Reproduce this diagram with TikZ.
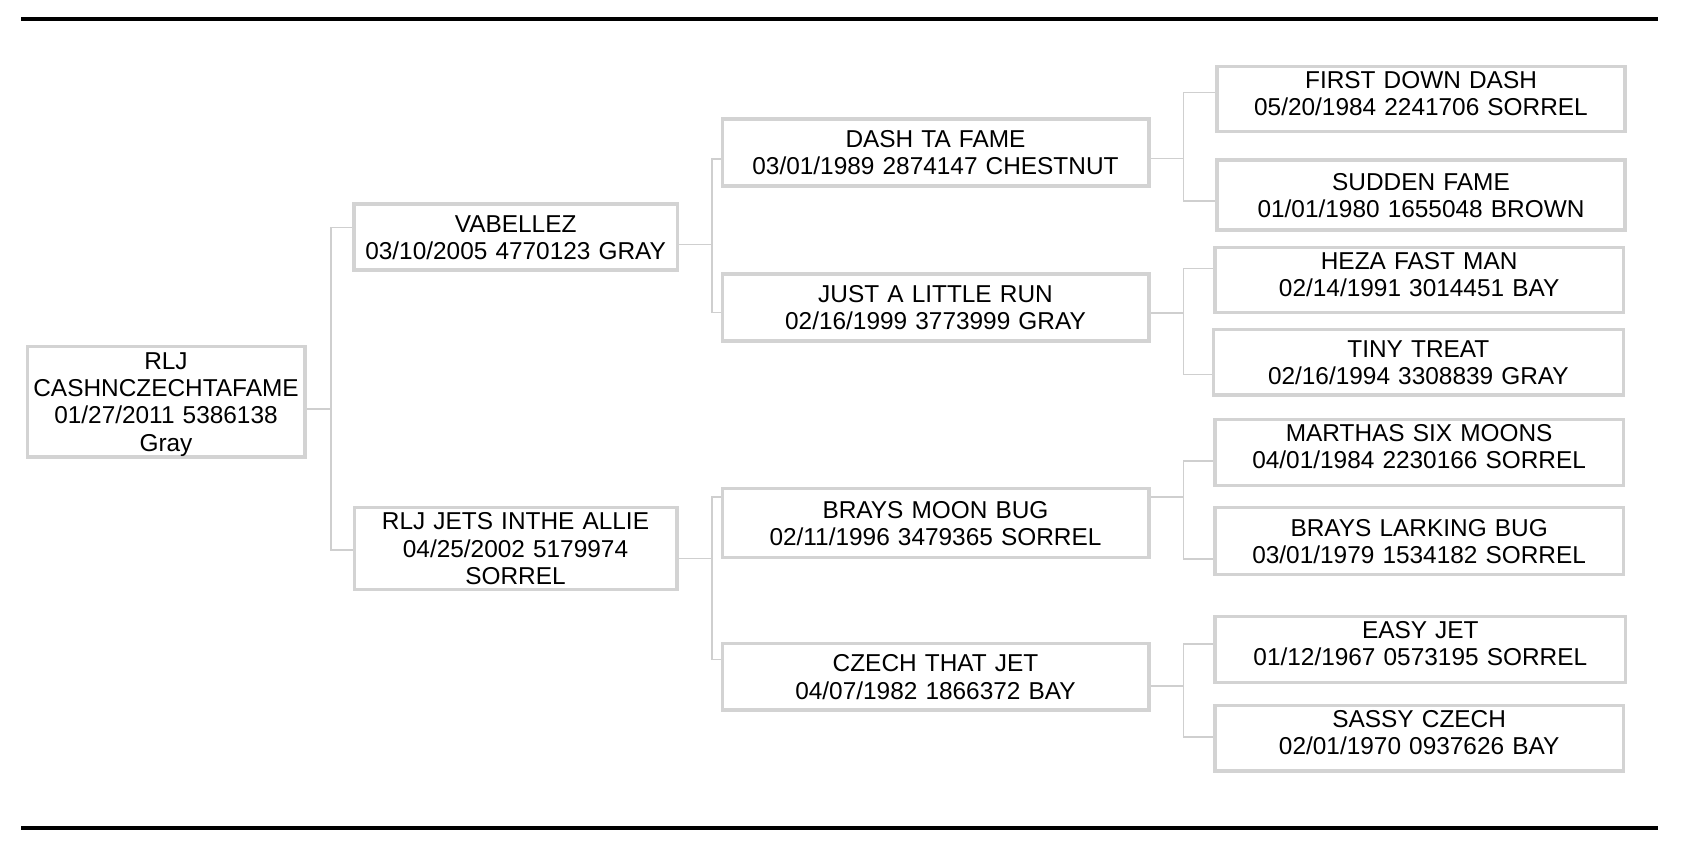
\documentclass[tikz,border=0pt]{standalone}
\usepackage{fontspec}
\setmainfont{Liberation Sans}
\usetikzlibrary{calc,backgrounds}
\definecolor{boxgray}{HTML}{D3D3D3}
\definecolor{linegray}{HTML}{CFCFCF}
\newcommand\horsefont{\fontsize{24.4pt}{27.4pt}\selectfont}
\tikzset{
  horse/.style={draw=boxgray, line width=3.4pt, fill=white, inner sep=0pt,
    align=center, font=\horsefont, text height=17.5pt},
  two/.style={text depth=27.4pt},
  twoup/.style={text depth=39.4pt},
  three/.style={text depth=54.8pt},
  four/.style={text depth=82.2pt},
  conn/.style={draw=linegray, line width=1.6pt},
  rule/.style={draw=black, line width=3.6pt}
}
\begin{document}
\begin{tikzpicture}[x=1pt,y=-1pt]
\useasboundingbox (0,0) rectangle (1696,854);

% rules
\draw[rule] (21,19) -- (1658,19);
\draw[rule] (21,828) -- (1658,828);

% junction coordinates
\coordinate (j0a) at (330.7,227.3);  \coordinate (j0b) at (330.7,550);
\coordinate (j1a) at (711.7,159);    \coordinate (j1b) at (711.7,312.3);
\coordinate (j2a) at (711.7,496.7);  \coordinate (j2b) at (711.7,659.3);
\coordinate (j3a) at (1183.3,92.3);  \coordinate (j3b) at (1183.3,200.7);
\coordinate (j4a) at (1183.3,268.3); \coordinate (j4b) at (1183.3,374.3);
\coordinate (j5a) at (1183.3,461);   \coordinate (j5b) at (1183.3,559);
\coordinate (j6a) at (1183.3,644);   \coordinate (j6b) at (1183.3,736.7);

% generation 0
\node[horse, four, minimum width=277.6pt, minimum height=110.6pt, text width=275pt] (root) at (166,401.5)
  {RLJ\\CASHNCZECHTAFAME\\01/27/2011 5386138\\Gray};

% generation 1
\node[horse, two, minimum width=323.3pt, minimum height=66pt, text width=320pt] (vab) at (515.65,237)
  {VABELLEZ\\03/10/2005 4770123 GRAY};
\node[horse, three, minimum width=322.6pt, minimum height=81.9pt, text width=320pt] (rlj) at (515.5,548.35)
  {RLJ JETS INTHE ALLIE\\04/25/2002 5179974\\SORREL};

% generation 2
\node[horse, two, minimum width=426.6pt, minimum height=67pt, text width=424pt] (dash) at (935.5,152.5)
  {DASH TA FAME\\03/01/1989 2874147 CHESTNUT};
\node[horse, two, minimum width=426.6pt, minimum height=67pt, text width=424pt] (just) at (935.5,307.5)
  {JUST A LITTLE RUN\\02/16/1999 3773999 GRAY};
\node[horse, two, minimum width=426.6pt, minimum height=69.2pt, text width=424pt] (brays) at (935.5,523)
  {BRAYS MOON BUG\\02/11/1996 3479365 SORREL};
\node[horse, two, minimum width=426.6pt, minimum height=66.3pt, text width=424pt] (czech) at (935.5,676.85)
  {CZECH THAT JET\\04/07/1982 1866372 BAY};

% generation 3
\node[horse, twoup, minimum width=408pt, minimum height=64.9pt, text width=405pt] (first) at (1421,99.15)
  {FIRST DOWN DASH\\05/20/1984 2241706 SORREL};
\node[horse, two, minimum width=408pt, minimum height=70pt, text width=405pt] (sudden) at (1421,195)
  {SUDDEN FAME\\01/01/1980 1655048 BROWN};
\node[horse, twoup, minimum width=408.3pt, minimum height=64.6pt, text width=405pt] (heza) at (1419.15,280)
  {HEZA FAST MAN\\02/14/1991 3014451 BAY};
\node[horse, two, minimum width=409.9pt, minimum height=65.6pt, text width=405pt] (tiny) at (1418.35,362.2)
  {TINY TREAT\\02/16/1994 3308839 GRAY};
\node[horse, twoup, minimum width=408.3pt, minimum height=66.2pt, text width=405pt] (marthas) at (1419.15,452.5)
  {MARTHAS SIX MOONS\\04/01/1984 2230166 SORREL};
\node[horse, two, minimum width=408.3pt, minimum height=66.6pt, text width=405pt] (larking) at (1419.15,541)
  {BRAYS LARKING BUG\\03/01/1979 1534182 SORREL};
\node[horse, twoup, minimum width=410.6pt, minimum height=65.6pt, text width=405pt] (easy) at (1420.3,649.5)
  {EASY JET\\01/12/1967 0573195 SORREL};
\node[horse, twoup, minimum width=408.3pt, minimum height=65.3pt, text width=405pt] (sassy) at (1419.15,738.35)
  {SASSY CZECH\\02/01/1970 0937626 BAY};

% connectors (behind the boxes)
\begin{pgfonlayer}{background}
\fill[white] (0,0) rectangle (1696,854);
\draw[conn] ($(root.east)+(0,7.5)$) -| (j0a);
\draw[conn] (vab.west |- j0a) -- (j0a) -- (j0b) -- (rlj.west |- j0b);
\draw[conn] ($(vab.east)+(0,7.5)$) -| (j1a);
\draw[conn] (dash.west |- j1a) -- (j1a) -- (j1b) -- (just.west |- j1b);
\draw[conn] ($(rlj.east)+(0,10)$) -| (j2a);
\draw[conn] (brays.west |- j2a) -- (j2a) -- (j2b) -- (czech.west |- j2b);
\draw[conn] ($(dash.east)+(0,5.8)$) -| (j3a);
\draw[conn] (first.west |- j3a) -- (j3a) -- (j3b) -- (sudden.west |- j3b);
\draw[conn] ($(just.east)+(0,5.2)$) -| (j4a);
\draw[conn] (heza.west |- j4a) -- (j4a) -- (j4b) -- (tiny.west |- j4b);
\draw[conn] ($(brays.east)+(0,-26.3)$) -| (j5a);
\draw[conn] (marthas.west |- j5a) -- (j5a) -- (j5b) -- (larking.west |- j5b);
\draw[conn] ($(czech.east)+(0,9)$) -| (j6a);
\draw[conn] (easy.west |- j6a) -- (j6a) -- (j6b) -- (sassy.west |- j6b);
\end{pgfonlayer}
\end{tikzpicture}
\end{document}
